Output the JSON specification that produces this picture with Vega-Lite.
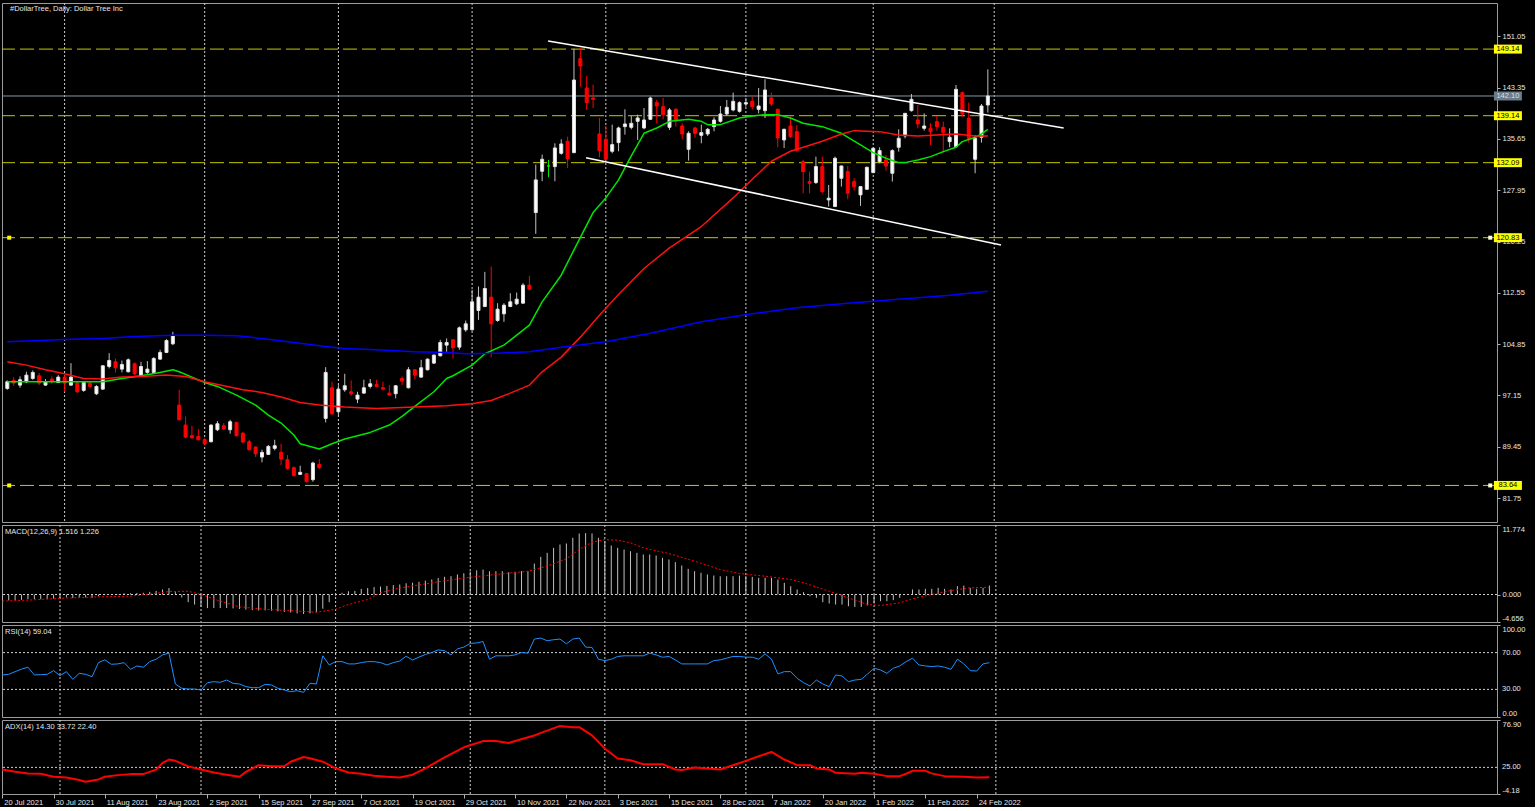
{
"$schema": "https://vega.github.io/schema/vega-lite/v6.json",
"background": "#000000",
"padding": {"left": 1, "top": 2, "right": 9, "bottom": 1},
"spacing": 3,
"bounds": "flush",
"datasets": {
"bars": [
{"i":0,"o":98.2,"h":99.4,"l":98.0,"c":99.2,"m":-1.1,"r":45.7},
{"i":1,"o":99.4,"h":99.9,"l":98.6,"c":99.0,"m":-1.0,"r":46.4},
{"i":2,"o":98.7,"h":100.0,"l":98.3,"c":99.5,"m":-0.95,"r":49.3},
{"i":3,"o":99.2,"h":100.7,"l":99.0,"c":100.2,"m":-0.9,"r":52},
{"i":4,"o":99.7,"h":100.9,"l":99.5,"c":100.6,"m":-0.8,"r":54.1},
{"i":5,"o":100.1,"h":100.5,"l":98.7,"c":99.0,"m":-0.8,"r":45.7},
{"i":6,"o":98.7,"h":99.6,"l":98.6,"c":99.2,"m":-0.8,"r":46},
{"i":7,"o":99.6,"h":100.0,"l":98.9,"c":99.3,"m":-0.75,"r":46.4},
{"i":8,"o":99.1,"h":100.2,"l":99.0,"c":99.9,"m":-0.7,"r":50.4},
{"i":9,"o":99.9,"h":100.2,"l":97.7,"c":99.0,"m":-0.65,"r":45.0},
{"i":10,"o":98.7,"h":102.0,"l":98.6,"c":99.9,"m":-0.5,"r":49.3},
{"i":11,"o":99.0,"h":99.2,"l":97.5,"c":97.7,"m":-0.6,"r":40.9},
{"i":12,"o":97.9,"h":99.2,"l":97.7,"c":99.1,"m":-0.55,"r":47.5},
{"i":13,"o":99.0,"h":99.2,"l":98.2,"c":98.5,"m":-0.5,"r":46.4},
{"i":14,"o":97.4,"h":98.7,"l":97.2,"c":98.5,"m":-0.55,"r":43.8},
{"i":15,"o":98.1,"h":101.7,"l":98.0,"c":101.6,"m":-0.3,"r":59.1},
{"i":16,"o":101.5,"h":103.5,"l":101.2,"c":102.4,"m":-0.1,"r":62.1},
{"i":17,"o":102.2,"h":102.7,"l":100.6,"c":101.3,"m":-0.05,"r":57.3},
{"i":18,"o":101.1,"h":102.4,"l":100.6,"c":101.8,"m":0.05,"r":57.7},
{"i":19,"o":100.7,"h":102.7,"l":100.6,"c":102.5,"m":0.2,"r":59.1},
{"i":20,"o":101.9,"h":102.1,"l":100.2,"c":100.4,"m":0.2,"r":51.8},
{"i":21,"o":100.2,"h":102.2,"l":100.1,"c":101.5,"m":0.25,"r":55.5},
{"i":22,"o":100.6,"h":102.3,"l":100.4,"c":101.1,"m":0.3,"r":54.1},
{"i":23,"o":100.6,"h":102.9,"l":100.5,"c":102.7,"m":0.45,"r":60.2},
{"i":24,"o":102.6,"h":104.0,"l":102.5,"c":103.6,"m":0.6,"r":62.8},
{"i":25,"o":103.6,"h":105.6,"l":103.5,"c":105.4,"m":0.85,"r":67.5},
{"i":26,"o":104.9,"h":106.7,"l":104.7,"c":106.1,"m":1.1,"r":69.4},
{"i":27,"o":95.7,"h":98.0,"l":93.4,"c":93.5,"m":0.4,"r":35.9},
{"i":28,"o":92.7,"h":94.0,"l":90.7,"c":90.9,"m":-0.5,"r":31.2},
{"i":29,"o":91.1,"h":92.6,"l":90.6,"c":90.8,"m":-1.3,"r":30.4},
{"i":30,"o":91.0,"h":92.1,"l":90.4,"c":90.5,"m":-1.7,"r":30.4},
{"i":31,"o":90.5,"h":90.7,"l":89.7,"c":89.9,"m":-2.1,"r":29.3},
{"i":32,"o":90.2,"h":92.8,"l":90.1,"c":92.7,"m":-2.3,"r":37.3},
{"i":33,"o":92.0,"h":93.3,"l":91.8,"c":92.9,"m":-2.3,"r":38.4},
{"i":34,"o":92.6,"h":93.0,"l":92.0,"c":92.1,"m":-2.3,"r":37.7},
{"i":35,"o":92.0,"h":93.5,"l":91.4,"c":93.2,"m":-2.3,"r":40.2},
{"i":36,"o":93.1,"h":93.2,"l":91.0,"c":91.1,"m":-2.35,"r":36.6},
{"i":37,"o":91.5,"h":91.6,"l":90.05,"c":90.15,"m":-2.45,"r":35.9},
{"i":38,"o":90.2,"h":90.5,"l":88.9,"c":89.0,"m":-2.55,"r":33.0},
{"i":39,"o":89.4,"h":89.5,"l":87.9,"c":88.4,"m":-2.65,"r":31.9},
{"i":40,"o":87.9,"h":89.0,"l":87.1,"c":88.6,"m":-2.7,"r":31.9},
{"i":41,"o":88.3,"h":89.7,"l":88.2,"c":89.5,"m":-2.7,"r":35.5},
{"i":42,"o":89.2,"h":90.5,"l":88.9,"c":89.6,"m":-2.75,"r":34.8},
{"i":43,"o":88.6,"h":89.9,"l":86.7,"c":87.6,"m":-2.85,"r":31.2},
{"i":44,"o":87.5,"h":88.2,"l":86.0,"c":86.2,"m":-2.95,"r":29.3},
{"i":45,"o":86.3,"h":86.5,"l":85.0,"c":85.1,"m":-3.05,"r":27.5},
{"i":46,"o":85.3,"h":86.6,"l":85.2,"c":85.6,"m":-3.2,"r":28.6},
{"i":47,"o":85.4,"h":85.5,"l":84.1,"c":84.2,"m":-3.3,"r":26.8},
{"i":48,"o":84.5,"h":87.2,"l":84.2,"c":87.0,"m":-3.2,"r":36.6},
{"i":49,"o":86.8,"h":87.6,"l":86.1,"c":86.3,"m":-3.0,"r":35.9},
{"i":50,"o":93.7,"h":101.4,"l":93.1,"c":100.6,"m":-2.4,"r":66.5},
{"i":51,"o":98.3,"h":99.2,"l":94.2,"c":94.4,"m":-1.3,"r":56.6},
{"i":52,"o":94.7,"h":98.7,"l":94.2,"c":98.1,"m":-0.2,"r":60.2},
{"i":53,"o":98.0,"h":100.4,"l":97.7,"c":98.6,"m":0.3,"r":60.2},
{"i":54,"o":97.7,"h":99.4,"l":97.1,"c":97.4,"m":0.55,"r":57.7},
{"i":55,"o":96.6,"h":97.7,"l":96.0,"c":97.2,"m":0.6,"r":57.7},
{"i":56,"o":97.5,"h":99.5,"l":97.4,"c":98.3,"m":0.95,"r":59.1},
{"i":57,"o":98.5,"h":99.6,"l":98.2,"c":98.9,"m":1.1,"r":60.2},
{"i":58,"o":98.8,"h":99.5,"l":98.4,"c":98.5,"m":1.25,"r":60.2},
{"i":59,"o":98.3,"h":99.2,"l":97.9,"c":98.1,"m":1.35,"r":59.1},
{"i":60,"o":97.5,"h":98.7,"l":97.1,"c":97.2,"m":1.45,"r":56.6},
{"i":61,"o":97.4,"h":98.7,"l":96.7,"c":98.6,"m":1.6,"r":59.1},
{"i":62,"o":99.7,"h":100.0,"l":98.7,"c":99.3,"m":1.7,"r":60.9},
{"i":63,"o":98.3,"h":101.4,"l":98.2,"c":101.0,"m":1.9,"r":66},
{"i":64,"o":101.0,"h":101.1,"l":99.6,"c":100.2,"m":2.0,"r":62},
{"i":65,"o":99.9,"h":102.5,"l":99.8,"c":101.3,"m":2.15,"r":65},
{"i":66,"o":101.0,"h":102.7,"l":100.9,"c":102.6,"m":2.35,"r":68},
{"i":67,"o":102.0,"h":103.3,"l":101.9,"c":103.2,"m":2.55,"r":70},
{"i":68,"o":103.1,"h":105.5,"l":103.0,"c":105.1,"m":2.8,"r":73},
{"i":69,"o":104.7,"h":105.7,"l":103.7,"c":105.1,"m":3.0,"r":72},
{"i":70,"o":105.5,"h":105.6,"l":102.7,"c":104.3,"m":3.1,"r":67.5},
{"i":71,"o":104.4,"h":107.5,"l":104.0,"c":107.3,"m":3.4,"r":74},
{"i":72,"o":107.0,"h":108.4,"l":106.7,"c":107.9,"m":3.6,"r":76},
{"i":73,"o":107.0,"h":113.0,"l":106.9,"c":111.2,"m":3.9,"r":80},
{"i":74,"o":109.9,"h":113.5,"l":108.5,"c":111.9,"m":4.1,"r":80.5},
{"i":75,"o":110.5,"h":115.7,"l":110.4,"c":113.2,"m":4.23,"r":82},
{"i":76,"o":111.9,"h":116.5,"l":102.9,"c":107.9,"m":3.95,"r":62.8},
{"i":77,"o":108.4,"h":111.0,"l":108.2,"c":110.1,"m":3.95,"r":66.5},
{"i":78,"o":109.4,"h":111.0,"l":108.2,"c":110.7,"m":3.95,"r":66.5},
{"i":79,"o":110.5,"h":112.5,"l":110.4,"c":111.2,"m":3.78,"r":66.5},
{"i":80,"o":110.9,"h":112.6,"l":110.7,"c":111.6,"m":3.85,"r":67.5},
{"i":81,"o":111.0,"h":114.0,"l":110.9,"c":113.7,"m":3.95,"r":70.1},
{"i":82,"o":113.7,"h":115.1,"l":112.9,"c":113.1,"m":3.95,"r":69.4},
{"i":83,"o":124.6,"h":131.8,"l":121.4,"c":129.5,"m":5.25,"r":84.7},
{"i":84,"o":130.8,"h":133.3,"l":129.3,"c":132.6,"m":6.38,"r":85.8},
{"i":85,"o":131.6,"h":132.5,"l":129.9,"c":131.6,"m":7.06,"r":82.9},
{"i":86,"o":131.5,"h":135.0,"l":129.3,"c":134.3,"m":7.9,"r":84.0},
{"i":87,"o":133.5,"h":135.6,"l":133.3,"c":134.9,"m":8.47,"r":84.7},
{"i":88,"o":135.3,"h":136.0,"l":131.3,"c":132.7,"m":8.64,"r":79.6},
{"i":89,"o":133.6,"h":149.2,"l":133.5,"c":144.5,"m":9.6,"r":84.7},
{"i":90,"o":147.7,"h":149.3,"l":143.5,"c":146.6,"m":10.33,"r":85.8},
{"i":91,"o":143.3,"h":145.1,"l":140.0,"c":141.1,"m":10.4,"r":76.0},
{"i":92,"o":141.8,"h":143.8,"l":140.3,"c":141.6,"m":10.35,"r":75.6},
{"i":93,"o":136.4,"h":138.8,"l":132.9,"c":133.9,"m":9.6,"r":62.8},
{"i":94,"o":135.6,"h":137.6,"l":132.4,"c":132.6,"m":9.03,"r":61.3},
{"i":95,"o":133.8,"h":137.8,"l":133.5,"c":134.8,"m":8.3,"r":62.8},
{"i":96,"o":135.1,"h":137.5,"l":133.8,"c":137.3,"m":7.9,"r":65.8},
{"i":97,"o":137.5,"h":140.1,"l":136.3,"c":137.9,"m":7.62,"r":66.5},
{"i":98,"o":137.4,"h":139.1,"l":137.1,"c":138.0,"m":7.34,"r":66.5},
{"i":99,"o":138.3,"h":139.3,"l":135.5,"c":138.8,"m":7.06,"r":66.5},
{"i":100,"o":137.3,"h":140.3,"l":137.1,"c":138.5,"m":6.78,"r":66.5},
{"i":101,"o":138.6,"h":142.0,"l":138.5,"c":141.8,"m":6.78,"r":69.4},
{"i":102,"o":141.1,"h":141.5,"l":138.0,"c":140.6,"m":6.6,"r":67.5},
{"i":103,"o":140.5,"h":141.8,"l":138.6,"c":139.3,"m":6.2,"r":65.0},
{"i":104,"o":137.4,"h":140.3,"l":137.0,"c":140.0,"m":5.93,"r":65.8},
{"i":105,"o":140.1,"h":140.3,"l":137.5,"c":138.4,"m":5.48,"r":62.1},
{"i":106,"o":137.6,"h":138.0,"l":135.6,"c":136.4,"m":4.91,"r":57.7},
{"i":107,"o":134.1,"h":136.8,"l":132.4,"c":136.5,"m":4.35,"r":57.7},
{"i":108,"o":137.3,"h":137.5,"l":135.8,"c":136.5,"m":3.95,"r":57.7},
{"i":109,"o":136.2,"h":137.8,"l":135.0,"c":136.6,"m":3.67,"r":57.7},
{"i":110,"o":136.4,"h":137.3,"l":136.1,"c":137.1,"m":3.39,"r":57.7},
{"i":111,"o":137.5,"h":138.9,"l":136.8,"c":138.5,"m":3.22,"r":61.3},
{"i":112,"o":138.3,"h":140.6,"l":138.1,"c":139.4,"m":3.1,"r":62.1},
{"i":113,"o":139.4,"h":141.5,"l":139.1,"c":140.4,"m":3.1,"r":63.9},
{"i":114,"o":140.0,"h":142.6,"l":139.8,"c":141.3,"m":3.1,"r":65.8},
{"i":115,"o":139.8,"h":141.3,"l":139.6,"c":141.1,"m":3.2,"r":65.8},
{"i":116,"o":140.9,"h":141.8,"l":140.5,"c":141.1,"m":3.1,"r":65.0},
{"i":117,"o":141.3,"h":142.0,"l":140.1,"c":140.5,"m":2.99,"r":65.0},
{"i":118,"o":140.1,"h":143.3,"l":139.5,"c":140.6,"m":2.82,"r":62.8},
{"i":119,"o":139.9,"h":144.6,"l":138.8,"c":143.0,"m":2.85,"r":68.6},
{"i":120,"o":141.8,"h":142.6,"l":140.6,"c":140.9,"m":2.82,"r":62.8},
{"i":121,"o":140.1,"h":140.2,"l":134.4,"c":135.8,"m":2.54,"r":46.8},
{"i":122,"o":135.5,"h":137.2,"l":134.3,"c":137.1,"m":1.98,"r":49.3},
{"i":123,"o":137.6,"h":139.0,"l":135.8,"c":136.0,"m":1.41,"r":49.3},
{"i":124,"o":136.75,"h":137.75,"l":133.75,"c":133.9,"m":0.85,"r":42.0},
{"i":125,"o":132.25,"h":132.5,"l":127.5,"c":130.75,"m":0.4,"r":37.3},
{"i":126,"o":129.25,"h":130.75,"l":127.5,"c":129.0,"m":-0.28,"r":33.7},
{"i":127,"o":129.1,"h":133.0,"l":128.9,"c":131.5,"m":-0.56,"r":40.2},
{"i":128,"o":131.5,"h":133.0,"l":127.5,"c":127.75,"m":-1.3,"r":35.9},
{"i":129,"o":126.5,"h":128.75,"l":125.5,"c":126.75,"m":-1.52,"r":33.0},
{"i":130,"o":125.5,"h":133.0,"l":125.5,"c":132.75,"m":-1.7,"r":45.7},
{"i":131,"o":129.75,"h":131.6,"l":128.5,"c":131.6,"m":-1.7,"r":44.6},
{"i":132,"o":130.75,"h":131.6,"l":126.6,"c":127.5,"m":-1.98,"r":38.4},
{"i":133,"o":129.25,"h":129.75,"l":127.9,"c":128.5,"m":-2.1,"r":40.2},
{"i":134,"o":127.25,"h":128.6,"l":125.6,"c":128.5,"m":-2.1,"r":40.9},
{"i":135,"o":128.1,"h":131.5,"l":128.0,"c":131.4,"m":-1.86,"r":46.8},
{"i":136,"o":130.6,"h":134.4,"l":130.5,"c":134.25,"m":-1.52,"r":53.0},
{"i":137,"o":132.25,"h":134.4,"l":132.0,"c":133.9,"m":-1.13,"r":51.1},
{"i":138,"o":132.5,"h":133.25,"l":130.9,"c":131.6,"m":-1.13,"r":47.5},
{"i":139,"o":130.5,"h":134.1,"l":129.25,"c":133.9,"m":-0.96,"r":53.0},
{"i":140,"o":134.4,"h":137.1,"l":133.75,"c":135.75,"m":-0.56,"r":55.5},
{"i":141,"o":136.1,"h":139.5,"l":135.75,"c":139.5,"m":0.0,"r":60.2},
{"i":142,"o":139.9,"h":142.4,"l":139.75,"c":141.6,"m":0.85,"r":63.9},
{"i":143,"o":138.5,"h":140.75,"l":137.25,"c":137.9,"m":0.85,"r":56.6},
{"i":144,"o":137.25,"h":139.5,"l":136.9,"c":137.6,"m":0.96,"r":55.5},
{"i":145,"o":137.25,"h":138.0,"l":134.75,"c":136.75,"m":0.96,"r":54.8},
{"i":146,"o":138.25,"h":139.1,"l":136.9,"c":137.5,"m":1.13,"r":55.5},
{"i":147,"o":137.4,"h":138.25,"l":133.6,"c":136.6,"m":0.96,"r":54.1},
{"i":148,"o":135.25,"h":137.25,"l":134.4,"c":135.9,"m":0.85,"r":51.8},
{"i":149,"o":134.5,"h":143.75,"l":134.4,"c":143.1,"m":1.41,"r":62.8},
{"i":150,"o":142.6,"h":142.75,"l":139.0,"c":139.4,"m":1.5,"r":57.7},
{"i":151,"o":138.75,"h":141.1,"l":135.1,"c":135.75,"m":1.13,"r":50.4},
{"i":152,"o":132.6,"h":136.25,"l":130.5,"c":135.75,"m":0.96,"r":50.0},
{"i":153,"o":135.9,"h":140.9,"l":135.1,"c":140.6,"m":1.13,"r":57.7},
{"i":154,"o":140.75,"h":146.1,"l":139.6,"c":142.1,"m":1.516,"r":59.04}
],
"sig": [
{"i":0,"v":-1.13},{"i":5,"v":-0.9},{"i":10,"v":-0.6},{"i":15,"v":-0.4},{"i":20,"v":-0.28},{"i":24,"v":0.2},{"i":26,"v":0.5},{"i":29,"v":0.56},{"i":31,"v":0.0},{"i":34,"v":-1.13},{"i":37,"v":-2.1},{"i":41,"v":-2.5},{"i":46,"v":-2.8},{"i":49,"v":-3.0},{"i":52,"v":-2.5},{"i":54,"v":-1.7},{"i":57,"v":-0.85},{"i":59,"v":0.3},{"i":62,"v":1.1},{"i":66,"v":1.8},{"i":70,"v":2.5},{"i":74,"v":3.05},{"i":78,"v":3.5},{"i":82,"v":3.95},{"i":85,"v":4.8},{"i":88,"v":6.04},{"i":90,"v":7.62},{"i":92,"v":8.86},{"i":94,"v":9.31},{"i":96,"v":9.2},{"i":98,"v":8.75},{"i":100,"v":7.9},{"i":104,"v":6.94},{"i":108,"v":5.65},{"i":112,"v":4.23},{"i":115,"v":3.56},{"i":119,"v":3.1},{"i":123,"v":2.54},{"i":125,"v":1.98},{"i":129,"v":0.56},{"i":132,"v":-0.56},{"i":135,"v":-1.7},{"i":137,"v":-1.86},{"i":140,"v":-1.41},{"i":142,"v":-0.73},{"i":145,"v":0.0},{"i":148,"v":0.68},{"i":151,"v":1.13},{"i":154,"v":1.226}
],
"adx": [
{"i":0,"v":22.7},{"i":2,"v":20.1},{"i":4,"v":18.4},{"i":6,"v":18.0},{"i":8,"v":14.7},{"i":10,"v":14.0},{"i":12,"v":11.1},{"i":13,"v":9.2},{"i":15,"v":11.8},{"i":16,"v":14.7},{"i":18,"v":16.5},{"i":20,"v":17.6},{"i":22,"v":17.6},{"i":24,"v":22.5},{"i":25,"v":29.9},{"i":26,"v":33.6},{"i":27,"v":32.2},{"i":29,"v":26.1},{"i":31,"v":22.7},{"i":33,"v":19.4},{"i":35,"v":16.9},{"i":37,"v":14.7},{"i":38,"v":20.1},{"i":40,"v":27.4},{"i":42,"v":26.2},{"i":44,"v":26.2},{"i":45,"v":31.2},{"i":47,"v":36.3},{"i":48,"v":35.0},{"i":50,"v":31.2},{"i":52,"v":24.0},{"i":54,"v":19.4},{"i":56,"v":18.0},{"i":58,"v":15.8},{"i":60,"v":14.7},{"i":62,"v":14.0},{"i":64,"v":17.0},{"i":66,"v":24.0},{"i":69,"v":36.0},{"i":72,"v":47.0},{"i":75,"v":53.8},{"i":77,"v":53.8},{"i":79,"v":51.7},{"i":80,"v":53.8},{"i":83,"v":60.0},{"i":85,"v":65.3},{"i":87,"v":70.4},{"i":89,"v":69.0},{"i":90,"v":69.0},{"i":92,"v":60.0},{"i":94,"v":45.6},{"i":96,"v":34.7},{"i":98,"v":32.8},{"i":100,"v":28.5},{"i":103,"v":28.5},{"i":105,"v":22.7},{"i":106,"v":22.0},{"i":108,"v":24.9},{"i":112,"v":22.7},{"i":114,"v":27.4},{"i":116,"v":32.1},{"i":118,"v":37.2},{"i":120,"v":41.9},{"i":122,"v":33.6},{"i":124,"v":27.4},{"i":126,"v":27.4},{"i":127,"v":23.8},{"i":129,"v":22.7},{"i":130,"v":19.0},{"i":133,"v":18.0},{"i":134,"v":19.0},{"i":136,"v":18.0},{"i":138,"v":15.4},{"i":140,"v":15.4},{"i":141,"v":18.0},{"i":142,"v":21.2},{"i":144,"v":21.2},{"i":145,"v":18.4},{"i":147,"v":15.4},{"i":150,"v":14.7},{"i":152,"v":14.0},{"i":154,"v":14.3}
],
"ma": [
{"n":"20","i":0,"v":99.2},{"n":"20","i":15,"v":99.2},{"n":"20","i":18,"v":99.7},{"n":"20","i":21,"v":100.1},{"n":"20","i":24,"v":100.6},{"n":"20","i":26,"v":101.0},{"n":"20","i":27,"v":100.7},{"n":"20","i":29,"v":99.9},{"n":"20","i":31,"v":99.1},{"n":"20","i":33,"v":98.5},{"n":"20","i":36,"v":97.2},{"n":"20","i":39,"v":95.7},{"n":"20","i":41,"v":94.2},{"n":"20","i":43,"v":93.0},{"n":"20","i":45,"v":91.2},{"n":"20","i":46,"v":89.9},{"n":"20","i":49,"v":89.1},{"n":"20","i":51,"v":89.9},{"n":"20","i":53,"v":90.6},{"n":"20","i":57,"v":91.6},{"n":"20","i":60,"v":92.7},{"n":"20","i":62,"v":94.0},{"n":"20","i":64,"v":95.5},{"n":"20","i":67,"v":97.7},{"n":"20","i":69,"v":99.7},{"n":"20","i":70,"v":100.1},{"n":"20","i":73,"v":101.7},{"n":"20","i":75,"v":103.4},{"n":"20","i":78,"v":104.7},{"n":"20","i":82,"v":107.7},{"n":"20","i":84,"v":111.2},{"n":"20","i":87,"v":115.2},{"n":"20","i":89,"v":119.0},{"n":"20","i":92,"v":124.6},{"n":"20","i":94,"v":126.8},{"n":"20","i":96,"v":129.5},{"n":"20","i":98,"v":133.1},{"n":"20","i":100,"v":136.5},{"n":"20","i":102,"v":137.3},{"n":"20","i":104,"v":138.3},{"n":"20","i":107,"v":138.6},{"n":"20","i":109,"v":138.3},{"n":"20","i":110,"v":137.8},{"n":"20","i":112,"v":137.8},{"n":"20","i":115,"v":138.8},{"n":"20","i":117,"v":139.1},{"n":"20","i":119,"v":139.3},{"n":"20","i":121,"v":139.3},{"n":"20","i":123,"v":138.8},{"n":"20","i":125,"v":138.0},{"n":"20","i":128,"v":137.5},{"n":"20","i":131,"v":136.5},{"n":"20","i":134,"v":134.75},{"n":"20","i":136,"v":133.6},{"n":"20","i":138,"v":132.75},{"n":"20","i":140,"v":132.1},{"n":"20","i":141,"v":132.1},{"n":"20","i":143,"v":132.5},{"n":"20","i":145,"v":133.0},{"n":"20","i":147,"v":133.75},{"n":"20","i":149,"v":134.4},{"n":"20","i":150,"v":135.25},{"n":"20","i":152,"v":135.9},{"n":"20","i":153,"v":136.4},{"n":"20","i":154,"v":137.1},
{"n":"50","i":0,"v":102.2},{"n":"50","i":3,"v":101.7},{"n":"50","i":6,"v":101.0},{"n":"50","i":9,"v":100.4},{"n":"50","i":12,"v":99.7},{"n":"50","i":15,"v":99.6},{"n":"50","i":18,"v":99.9},{"n":"50","i":21,"v":100.0},{"n":"50","i":25,"v":100.2},{"n":"50","i":28,"v":100.0},{"n":"50","i":31,"v":99.2},{"n":"50","i":34,"v":98.6},{"n":"50","i":37,"v":98.0},{"n":"50","i":40,"v":97.6},{"n":"50","i":43,"v":96.9},{"n":"50","i":46,"v":96.1},{"n":"50","i":49,"v":95.7},{"n":"50","i":53,"v":95.4},{"n":"50","i":58,"v":95.2},{"n":"50","i":64,"v":95.4},{"n":"50","i":69,"v":95.6},{"n":"50","i":73,"v":95.9},{"n":"50","i":76,"v":96.4},{"n":"50","i":79,"v":97.5},{"n":"50","i":82,"v":98.7},{"n":"50","i":84,"v":100.7},{"n":"50","i":87,"v":102.9},{"n":"50","i":90,"v":105.9},{"n":"50","i":93,"v":109.2},{"n":"50","i":96,"v":112.3},{"n":"50","i":100,"v":116.2},{"n":"50","i":104,"v":119.3},{"n":"50","i":109,"v":122.5},{"n":"50","i":114,"v":126.8},{"n":"50","i":117,"v":129.6},{"n":"50","i":120,"v":132.3},{"n":"50","i":123,"v":133.8},{"n":"50","i":128,"v":135.3},{"n":"50","i":131,"v":136.4},{"n":"50","i":133,"v":136.9},{"n":"50","i":137,"v":136.75},{"n":"50","i":140,"v":136.25},{"n":"50","i":143,"v":136.1},{"n":"50","i":146,"v":136.25},{"n":"50","i":149,"v":136.4},{"n":"50","i":152,"v":136.1},{"n":"50","i":154,"v":136.1},
{"n":"200","i":0,"v":105.2},{"n":"200","i":5,"v":105.4},{"n":"200","i":10,"v":105.6},{"n":"200","i":15,"v":105.7},{"n":"200","i":20,"v":106.0},{"n":"200","i":26,"v":106.2},{"n":"200","i":31,"v":106.2},{"n":"200","i":36,"v":106.1},{"n":"200","i":41,"v":105.6},{"n":"200","i":46,"v":105.0},{"n":"200","i":50,"v":104.5},{"n":"200","i":53,"v":104.2},{"n":"200","i":58,"v":104.0},{"n":"200","i":64,"v":103.7},{"n":"200","i":69,"v":103.6},{"n":"200","i":72,"v":103.4},{"n":"200","i":77,"v":103.5},{"n":"200","i":82,"v":103.7},{"n":"200","i":87,"v":104.4},{"n":"200","i":94,"v":105.2},{"n":"200","i":101,"v":106.5},{"n":"200","i":109,"v":108.2},{"n":"200","i":117,"v":109.4},{"n":"200","i":124,"v":110.3},{"n":"200","i":132,"v":111.0},{"n":"200","i":140,"v":111.6},{"n":"200","i":148,"v":112.2},{"n":"200","i":154,"v":112.8}
],
"levels": [
{"v":149.14,"k":"y","s":false},{"v":139.14,"k":"y","s":false},{"v":132.09,"k":"y","s":false},{"v":120.83,"k":"y","s":true},{"v":83.64,"k":"y","s":true},{"v":142.10,"k":"p","s":false}
],
"trend": [
{"line":"upper","i":84.93,"p":150.36},{"line":"upper","i":165.9,"p":137.3},{"line":"lower","i":90.9,"p":132.84},{"line":"lower","i":156.07,"p":119.73}
],
"months": [{"i":9},{"i":31},{"i":52},{"i":73},{"i":94},{"i":116},{"i":136},{"i":155}],
"hl": [{"p":"macd","v":0},{"p":"rsi","v":70},{"p":"rsi","v":30},{"p":"adx","v":25}],
"titles": [{"p":"main","t":"#DollarTree, Daily:  Dollar Tree Inc"},{"p":"macd","t":"MACD(12,26,9) 1.516 1.226"},{"p":"rsi","t":"RSI(14) 59.04"},{"p":"adx","t":"ADX(14) 14.30 33.72 22.40"}]
},
"vconcat": [
{
"width": 1495, "height": 519,
"layer": [
{"data": {"name": "months"}, "mark": {"type": "rule", "strokeDash": [2, 2], "color": "#cfcfcf", "strokeWidth": 1, "clip": true},
 "encoding": {"x": {"field": "i", "type": "quantitative", "scale": {"domain": [-0.047, 233.18], "nice": false, "zero": false}, "axis": null}}},
{"data": {"name": "levels"}, "transform": [{"filter": "datum.k == 'y'"}], "mark": {"type": "rule", "strokeDash": [14, 5], "color": "#c8c800", "strokeWidth": 1, "clip": true},
 "encoding": {"y": {"field": "v", "type": "quantitative", "title": null, "scale": {"domain": [78.15, 156.06], "nice": false, "zero": false}}}},
{"data": {"name": "levels"}, "transform": [{"filter": "datum.k == 'p'"}], "mark": {"type": "rule", "color": "#8796a5", "strokeWidth": 1, "clip": true},
 "encoding": {"y": {"field": "v", "type": "quantitative", "title": null}}},
{"data": {"name": "bars"}, "mark": {"type": "rule", "strokeWidth": 1, "clip": true},
 "encoding": {
  "x": {"field": "i", "type": "quantitative", "axis": null},
  "y": {"field": "l", "type": "quantitative", "title": null, "axis": {"orient": "right", "title": null, "values": [154.9,151.05,147.2,143.35,139.5,135.65,131.8,127.95,124.1,120.25,116.4,112.55,108.7,104.85,101,97.15,93.3,89.45,85.6,81.75], "format": ".2f", "labelOverlap": false}},
  "y2": {"field": "h"},
  "color": {"condition": [{"test": "datum.c > datum.o", "value": "#c0c0c0"}, {"test": "datum.c < datum.o", "value": "#ff0000"}], "value": "#00e600"}}},
{"data": {"name": "bars"}, "mark": {"type": "bar", "width": 3, "strokeWidth": 1, "clip": true},
 "encoding": {
  "x": {"field": "i", "type": "quantitative", "axis": null},
  "y": {"field": "o", "type": "quantitative", "title": null},
  "y2": {"field": "c"},
  "fill": {"condition": [{"test": "datum.c > datum.o", "value": "#ffffff"}, {"test": "datum.c < datum.o", "value": "#ff0000"}], "value": "#00e600"},
  "stroke": {"condition": [{"test": "datum.c > datum.o", "value": "#e0e0e0"}, {"test": "datum.c < datum.o", "value": "#ff0000"}], "value": "#00e600"}}},
{"data": {"name": "ma"}, "mark": {"type": "line", "strokeWidth": 1.5, "clip": true, "strokeJoin": "round"},
 "encoding": {
  "x": {"field": "i", "type": "quantitative", "axis": null},
  "y": {"field": "v", "type": "quantitative", "title": null},
  "color": {"field": "n", "type": "nominal", "scale": {"domain": ["20", "50", "200"], "range": ["#00e600", "#ff1010", "#0000ff"]}, "legend": null}}},
{"data": {"name": "trend"}, "mark": {"type": "line", "color": "#ffffff", "strokeWidth": 1.5, "clip": true},
 "encoding": {
  "x": {"field": "i", "type": "quantitative", "axis": null},
  "y": {"field": "p", "type": "quantitative", "title": null},
  "detail": {"field": "line", "type": "nominal"}}},
{"data": {"name": "levels"}, "mark": {"type": "point", "shape": "M-1,-0.32H1V0.32H-1Z", "size": 784, "filled": true, "opacity": 1, "strokeWidth": 0},
 "encoding": {
  "x": {"datum": 235.68, "type": "quantitative", "axis": null},
  "y": {"field": "v", "type": "quantitative", "title": null},
  "fill": {"condition": {"test": "datum.k == 'y'", "value": "#ffff00"}, "value": "#6a7b8c"}}},
{"data": {"name": "levels"}, "mark": {"type": "text", "fontSize": 7.5, "align": "center", "baseline": "middle"},
 "encoding": {
  "x": {"datum": 235.68, "type": "quantitative", "axis": null},
  "y": {"field": "v", "type": "quantitative", "title": null},
  "text": {"field": "v", "type": "quantitative", "format": ".2f"},
  "color": {"condition": {"test": "datum.k == 'y'", "value": "#000000"}, "value": "#d8e0e8"}}},
{"data": {"name": "levels"}, "transform": [{"filter": "datum.s"}], "mark": {"type": "point", "shape": "square", "size": 16, "filled": true, "opacity": 1, "color": "#ffff00"},
 "encoding": {
  "x": {"datum": 0.3, "type": "quantitative", "axis": null},
  "y": {"field": "v", "type": "quantitative", "title": null}}},
{"data": {"name": "levels"}, "transform": [{"filter": "datum.s"}], "mark": {"type": "point", "shape": "square", "size": 16, "filled": true, "opacity": 1, "color": "#ffffe0"},
 "encoding": {
  "x": {"datum": 232.9, "type": "quantitative", "axis": null},
  "y": {"field": "v", "type": "quantitative", "title": null}}},
{"data": {"name": "titles"}, "transform": [{"filter": "datum.p == 'main'"}], "mark": {"type": "text", "align": "left", "baseline": "top", "dx": 3, "dy": 1.5, "fontSize": 7.5, "color": "#e6e6e6"},
 "encoding": {
  "x": {"datum": -0.047, "type": "quantitative", "axis": null},
  "y": {"datum": 156.06, "type": "quantitative", "title": null},
  "text": {"field": "t", "type": "nominal"}}}
]
},
{
"width": 1495, "height": 97,
"layer": [
{"data": {"name": "months"}, "mark": {"type": "rule", "strokeDash": [2, 2], "color": "#cfcfcf", "strokeWidth": 1, "clip": true},
 "encoding": {"x": {"field": "i", "type": "quantitative", "scale": {"domain": [-0.047, 233.18], "nice": false, "zero": false}, "axis": null}}},
{"data": {"name": "hl"}, "transform": [{"filter": "datum.p == 'macd'"}], "mark": {"type": "rule", "strokeDash": [2, 2], "color": "#cfcfcf", "strokeWidth": 1, "clip": true},
 "encoding": {"y": {"field": "v", "type": "quantitative", "title": null, "scale": {"domain": [-4.656, 11.774], "nice": false, "zero": false}}}},
{"data": {"name": "bars"}, "mark": {"type": "rule", "color": "#c0c0c0", "strokeWidth": 1, "clip": true},
 "encoding": {
  "x": {"field": "i", "type": "quantitative", "axis": null},
  "y": {"field": "m", "type": "quantitative", "title": null, "axis": {"orient": "right", "title": null, "values": [11.774, 0, -4.656], "labelOverlap": false, "labelExpr": "replace(format(datum.value, '.3f'), '\u2212', '-')",
    "labelBaseline": {"condition": {"test": "datum.value > 11", "value": "top"}, "value": "bottom"},
    "labelOffset": {"condition": {"test": "datum.value > -1 && datum.value < 1", "value": 4}, "value": 0}}},
  "y2": {"datum": 0}}},
{"data": {"name": "sig"}, "mark": {"type": "line", "color": "#ff0000", "strokeWidth": 1, "strokeDash": [2, 2], "clip": true},
 "encoding": {
  "x": {"field": "i", "type": "quantitative", "axis": null},
  "y": {"field": "v", "type": "quantitative", "title": null}}},
{"data": {"name": "titles"}, "transform": [{"filter": "datum.p == 'macd'"}], "mark": {"type": "text", "align": "left", "baseline": "top", "dx": 3, "dy": 3, "fontSize": 7.5, "color": "#e6e6e6"},
 "encoding": {
  "x": {"datum": -0.047, "type": "quantitative", "axis": null},
  "y": {"datum": 11.774, "type": "quantitative", "title": null},
  "text": {"field": "t", "type": "nominal"}}}
]
},
{
"width": 1495, "height": 92,
"layer": [
{"data": {"name": "months"}, "mark": {"type": "rule", "strokeDash": [2, 2], "color": "#cfcfcf", "strokeWidth": 1, "clip": true},
 "encoding": {"x": {"field": "i", "type": "quantitative", "scale": {"domain": [-0.047, 233.18], "nice": false, "zero": false}, "axis": null}}},
{"data": {"name": "hl"}, "transform": [{"filter": "datum.p == 'rsi'"}], "mark": {"type": "rule", "strokeDash": [2, 2], "color": "#cfcfcf", "strokeWidth": 1, "clip": true},
 "encoding": {"y": {"field": "v", "type": "quantitative", "title": null, "scale": {"domain": [0, 100], "nice": false, "zero": false}}}},
{"data": {"name": "hl"}, "transform": [{"filter": "datum.p == 'rsi'"}], "mark": {"type": "text", "align": "left", "baseline": "middle", "fontSize": 7.5, "color": "#e6e6e6"},
 "encoding": {
  "x": {"datum": 233.96, "type": "quantitative", "axis": null},
  "y": {"field": "v", "type": "quantitative", "title": null},
  "text": {"field": "v", "type": "quantitative", "format": ".2f"}}},
{"data": {"name": "bars"}, "mark": {"type": "line", "color": "#1e90ff", "strokeWidth": 1, "clip": true, "strokeJoin": "round"},
 "encoding": {
  "x": {"field": "i", "type": "quantitative", "axis": null},
  "y": {"field": "r", "type": "quantitative", "title": null, "axis": {"orient": "right", "title": null, "values": [100, 70, 30, 0], "labelOverlap": false, "labelExpr": "datum.value == 70 || datum.value == 30 ? '' : format(datum.value, '.2f')",
    "labelBaseline": {"condition": {"test": "datum.value > 99", "value": "top"}, "value": "bottom"}}}}},
{"data": {"name": "titles"}, "transform": [{"filter": "datum.p == 'rsi'"}], "mark": {"type": "text", "align": "left", "baseline": "top", "dx": 3, "dy": 3, "fontSize": 7.5, "color": "#e6e6e6"},
 "encoding": {
  "x": {"datum": -0.047, "type": "quantitative", "axis": null},
  "y": {"datum": 100, "type": "quantitative", "title": null},
  "text": {"field": "t", "type": "nominal"}}}
]
},
{
"width": 1495, "height": 74,
"layer": [
{"data": {"name": "months"}, "mark": {"type": "rule", "strokeDash": [2, 2], "color": "#cfcfcf", "strokeWidth": 1, "clip": true},
 "encoding": {"x": {"field": "i", "type": "quantitative", "title": null, "scale": {"domain": [-0.047, 233.18], "nice": false, "zero": false}}}},
{"data": {"name": "hl"}, "transform": [{"filter": "datum.p == 'adx'"}], "mark": {"type": "rule", "strokeDash": [2, 2], "color": "#cfcfcf", "strokeWidth": 1, "clip": true},
 "encoding": {"y": {"field": "v", "type": "quantitative", "title": null, "scale": {"domain": [-4.18, 76.9], "nice": false, "zero": false}}}},
{"data": {"name": "hl"}, "transform": [{"filter": "datum.p == 'adx'"}], "mark": {"type": "text", "align": "left", "baseline": "middle", "fontSize": 7.5, "color": "#e6e6e6"},
 "encoding": {
  "x": {"datum": 233.96, "type": "quantitative", "title": null},
  "y": {"field": "v", "type": "quantitative", "title": null},
  "text": {"field": "v", "type": "quantitative", "format": ".2f"}}},
{"data": {"name": "adx"}, "mark": {"type": "line", "color": "#ff0000", "strokeWidth": 2, "clip": true, "strokeJoin": "round"},
 "encoding": {
  "x": {"field": "i", "type": "quantitative", "title": null, "axis": {"title": null, "values": [0,8,16,24,32,40,48,56,64,72,80,88,96,104,112,120,128,136,144,152], "labelExpr": "['20 Jul 2021','30 Jul 2021','11 Aug 2021','23 Aug 2021','2 Sep 2021','15 Sep 2021','27 Sep 2021','7 Oct 2021','19 Oct 2021','29 Oct 2021','10 Nov 2021','22 Nov 2021','3 Dec 2021','15 Dec 2021','28 Dec 2021','7 Jan 2022','20 Jan 2022','1 Feb 2022','11 Feb 2022','24 Feb 2022'][round(datum.value / 8)]", "labelAlign": "left", "labelBaseline": "top", "labelPadding": 0, "labelOffset": 1.5, "tickSize": 4, "labelOverlap": false, "labelFlush": false}},
  "y": {"field": "v", "type": "quantitative", "title": null, "axis": {"orient": "right", "title": null, "values": [76.9, 25, -4.18], "labelOverlap": false, "labelExpr": "datum.value == 25 ? '' : replace(format(datum.value, '.2f'), '\u2212', '-')",
    "labelBaseline": {"condition": {"test": "datum.value > 76", "value": "top"}, "value": "bottom"}}}}},
{"data": {"name": "titles"}, "transform": [{"filter": "datum.p == 'adx'"}], "mark": {"type": "text", "align": "left", "baseline": "top", "dx": 3, "dy": 3, "fontSize": 7.5, "color": "#e6e6e6"},
 "encoding": {
  "x": {"datum": -0.047, "type": "quantitative", "title": null},
  "y": {"datum": 76.9, "type": "quantitative", "title": null},
  "text": {"field": "t", "type": "nominal"}}}
]
}
],
"config": {
 "font": "Liberation Sans",
 "view": {"stroke": "#9c9c9c", "strokeWidth": 1},
 "axis": {"labelColor": "#e6e6e6", "labelFontSize": 7.5, "labelFont": "Liberation Sans", "tickColor": "#b0b0b0", "tickSize": 3, "domain": false, "grid": false, "labelPadding": 2, "labelOverlap": false},
 "text": {"font": "Liberation Sans"}
}
}
